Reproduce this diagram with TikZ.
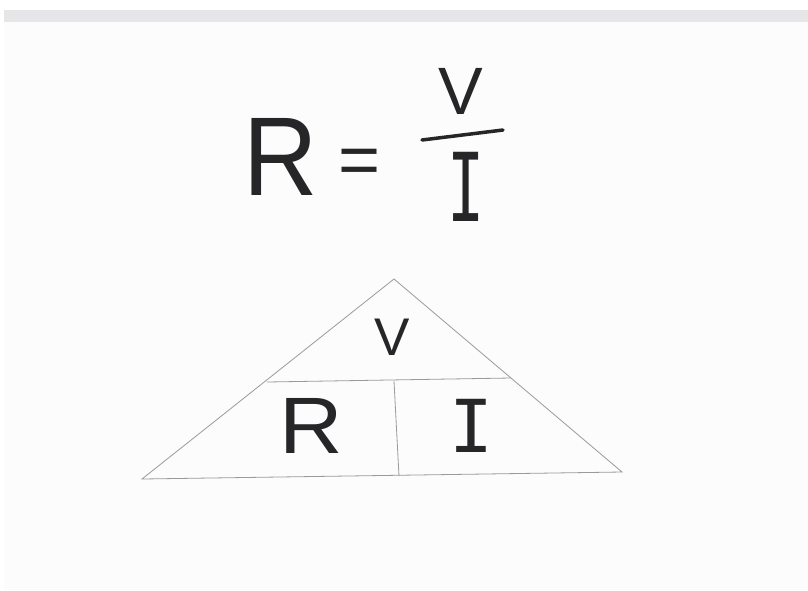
\documentclass[tikz,border=0pt]{standalone}
\usepackage{fontspec}
\setmainfont{Liberation Sans}
\newfontfamily\monoI{DejaVu Sans Mono}
\definecolor{ink}{HTML}{262628}
\definecolor{pencil}{HTML}{9A9A9E}
\definecolor{paper}{HTML}{FCFCFC}
\definecolor{band}{HTML}{E6E6E8}
\tikzset{
  letter/.style={inner sep=0pt, outer sep=0pt, text=ink},
  guide/.style={draw=pencil, line width=0.8pt},
  bar/.style={draw=ink, line width=3.5pt, line cap=round}
}
\begin{document}
\begin{tikzpicture}[x=1pt,y=-1pt]
\useasboundingbox (0,0) rectangle (808,590);
\fill[white] (0,0) rectangle (808,590);
\fill[paper] (4,22) rectangle (808,590);
\fill[band] (4,10) rectangle (808,22);
% formula
\node[letter, font=\fontsize{112}{112}\selectfont] (R1) at (281,157) {\scalebox{0.92}[1]{R}};
\node[letter, font=\fontsize{72}{72}\selectfont] (eq) at (360,167) {=};
\node[letter, font=\fontsize{67}{67}\selectfont] (V1) at (461,91) {V};
\coordinate (fbL) at (422,140);
\coordinate (fbR) at (503,130);
\draw[bar] (fbL) -- (fbR);
\node[letter, font=\monoI\fontsize{95}{95}\selectfont] (I1) at (466,187) {\scalebox{0.65}[1]{I}};
% triangle
\coordinate (apex) at (394,279);
\coordinate (bl) at (142,479);
\coordinate (br) at (622,472);
\coordinate (hl) at (267,382);
\coordinate (hr) at (511,378);
\coordinate (vt) at (394,381);
\coordinate (vb) at (399,476);
\draw[guide] (bl) -- (apex) -- (br) -- cycle;
\draw[guide] (hl) -- (hr);
\draw[guide] (vt) -- (vb);
\node[letter, font=\fontsize{53}{53}\selectfont] (V2) at (392,337) {V};
\node[letter, font=\fontsize{80}{80}\selectfont] (R2) at (311,426) {\scalebox{1.1}[1]{R}};
\node[letter, font=\monoI\fontsize{73}{73}\selectfont] (I2) at (471,426) {I};
\end{tikzpicture}
\end{document}
